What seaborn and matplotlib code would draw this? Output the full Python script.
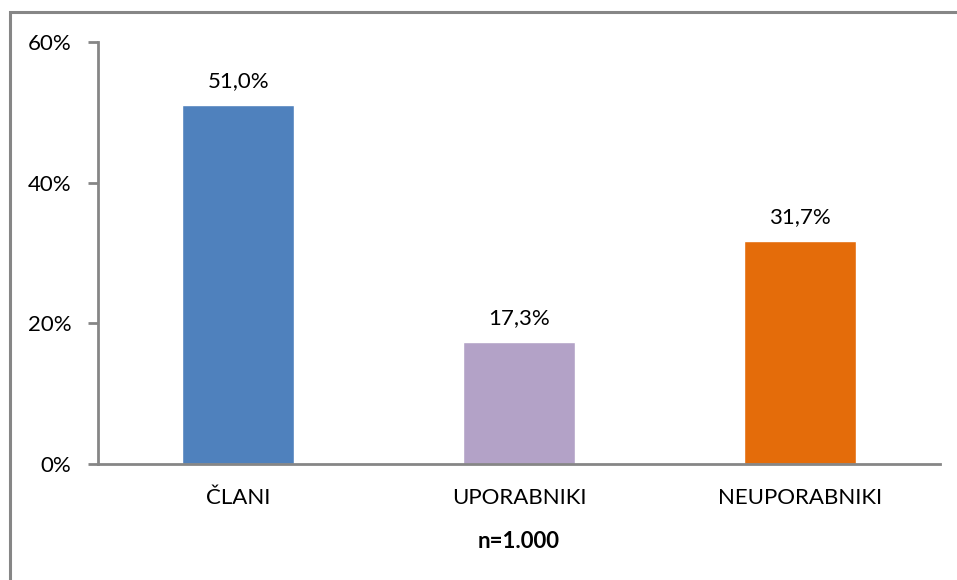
import matplotlib
matplotlib.use("Agg")
import matplotlib.pyplot as plt
import seaborn as sns
import pandas as pd
from matplotlib.patches import Rectangle
from matplotlib.ticker import FixedLocator, PercentFormatter

categories = ["ČLANI", "UPORABNIKI", "NEUPORABNIKI"]
values = [51.0, 17.3, 31.7]
colors = ["#4F81BD", "#B3A2C7", "#E46C0A"]
y_ticks = [0, 20, 40, 60]
note = "n=1.000"

sns.set_theme(style="white")
plt.rcParams["font.family"] = ["Lato", "DejaVu Sans"]

df = pd.DataFrame({"kategorija": categories, "delez": values})

fig = plt.figure(figsize=(9.57, 5.80), dpi=100)
ax = fig.add_axes([98 / 957, 1 - 464 / 580, (940 - 98) / 957, (464 - 42) / 580])

sns.barplot(data=df, x="kategorija", y="delez", hue="kategorija",
            palette=colors, width=0.4, legend=False, ax=ax, saturation=1)

ax.set_xlim(-0.5, 2.5)
ax.set_ylim(0, 60)
ax.set_yticks(y_ticks)
ax.yaxis.set_major_formatter(PercentFormatter(decimals=0))
ax.set_xlabel("")
ax.set_ylabel("")

fs = 16
for i, v in enumerate(values):
    ax.text(i, v + 2.0, f"{v:.1f}%".replace(".", ","), ha="center", va="bottom",
            fontsize=fs, color="#000000")

spine_color = "#868686"
for s in ["top", "right"]:
    ax.spines[s].set_visible(False)
for s in ["left", "bottom"]:
    ax.spines[s].set_color(spine_color)
    ax.spines[s].set_linewidth(2)

# category labels without ticks, separators as minor ticks
ax.tick_params(axis="x", which="major", length=0, pad=17, labelsize=fs, labelcolor="#000000")
ax.xaxis.set_minor_locator(FixedLocator([-0.5, 0.5, 1.5, 2.5]))
ax.tick_params(axis="x", which="minor", length=7, width=2, color=spine_color, direction="out")
ax.tick_params(axis="y", which="major", length=7, width=2, color=spine_color, direction="out",
               left=True, pad=12, labelsize=fs, labelcolor="#000000")

fig.text((98 + 940) / 2 / 957, 1 - 542 / 580, note, ha="center", va="center",
         fontsize=fs, fontweight="bold", color="#000000")

# outer frame of the chart area
fig.patches.append(Rectangle((10 / 957, -0.1), 1.1, 1 - 12 / 580 + 0.1,
                             transform=fig.transFigure, fill=False,
                             edgecolor=spine_color, linewidth=2.2))

fig.savefig("out.png", dpi=100)
